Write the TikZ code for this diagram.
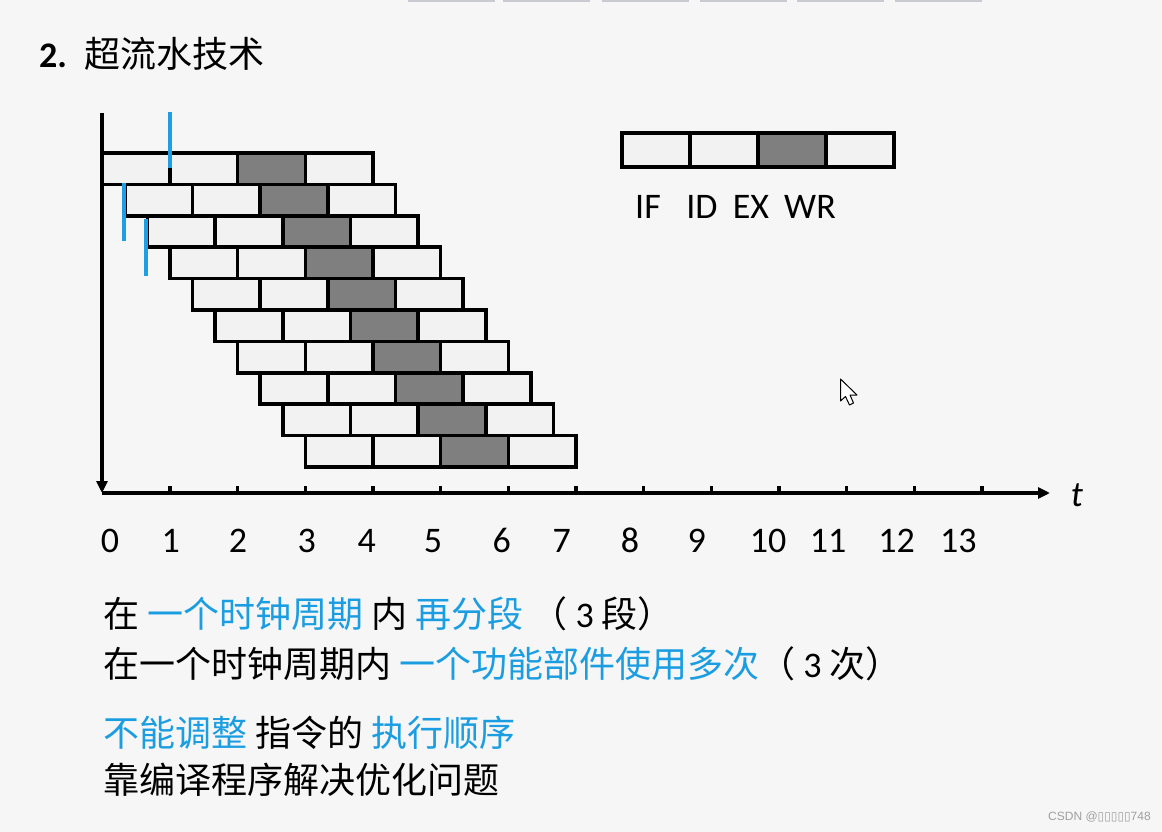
\documentclass[tikz,border=0pt]{standalone}
\usepackage{fontspec}
\setmainfont{Carlito}
\newfontfamily\cjk{Noto Sans CJK SC}
\newfontfamily\wmfont{Liberation Sans}
\newfontfamily\symfont{DejaVu Sans}
\usetikzlibrary{arrows.meta}
\definecolor{bgc}{HTML}{F6F6F6}
\definecolor{cellc}{HTML}{F2F2F2}
\definecolor{darkc}{HTML}{7F7F7F}
\definecolor{hlblue}{HTML}{1B9DE2}
\definecolor{markblue}{HTML}{1E9FE3}
\definecolor{barc}{HTML}{C9CAD2}
\begin{document}
\begin{tikzpicture}[x=1pt,y=-1pt,
  cell/.style={draw=black, line width=3.6pt, fill=cellc},
  darkcell/.style={cell, fill=darkc},
  txt/.style={inner sep=0pt, font=\cjk\fontsize{36}{40}\selectfont, anchor=base west},
  num/.style={inner sep=0pt, font=\fontsize{36}{40}\selectfont, anchor=base},
  axis/.style={line width=3.4pt, -{Triangle[length=12pt,width=11pt]}},
  tickmark/.style={line width=3.2pt},
  marker/.style={draw=markblue, line width=3.6pt}]
% background
\fill[bgc] (0,0) rectangle (1162,832);
\useasboundingbox (0,0) rectangle (1162,832);
% top toolbar fragments
\foreach \a/\b in {408/495,503/590,602/689,700/787,797/884,895/982}
  \fill[barc] (\a,0) rectangle (\b,2.5);
% title
\node[anchor=base west, inner sep=0pt, font=\fontsize{36}{40}\selectfont] (title) at (39,68)
  {{\bfseries 2.}\hspace{17pt}{\cjk 超流水技术}};
% pipeline rows
\foreach \i in {0,...,9} {
  \foreach \j in {0,...,3} {
    \pgfmathsetmacro\xa{102.3+22.56*\i+67.67*\j}
    \pgfmathsetmacro\ya{153+31.4*\i}
    \ifnum\j=2
      \path[darkcell] (\xa,\ya) rectangle ++(67.67,31.4);
    \else
      \path[cell] (\xa,\ya) rectangle ++(67.67,31.4);
    \fi
  }
}
% axes
\coordinate (Ytop) at (102,113);
\coordinate (O) at (102,493);
\coordinate (Xend) at (1050,493);
\draw[axis] (Ytop) -- (O);
\draw[axis] (O) -- (Xend);
\foreach \k in {1,...,13} {
  \pgfmathsetmacro\xt{102.3+67.67*\k}
  \draw[tickmark] (\xt,493) -- (\xt,485.5);
}
\node[inner sep=0pt, anchor=base, font=\itshape\fontsize{36}{40}\selectfont] (tlabel) at (1077,506) {t};
% axis numbers
\foreach \n/\x in {0/110,1/170.7,2/238,3/306.7,4/366.7,5/433,6/501.7,7/561.7,8/630,9/696.7,10/768,11/828,12/896.7,13/958.3}
  \node[num] (n\n) at (\x,552) {\n};
% blue markers
\draw[marker] (170,112) -- (170,168);
\draw[marker] (124,183) -- (124,241);
\draw[marker] (146,219) -- (146,276);
% legend
\foreach \j in {0,...,3} {
  \pgfmathsetmacro\xl{622+68*\j}
  \ifnum\j=2
    \path[darkcell] (\xl,133) rectangle ++(68,34);
  \else
    \path[cell] (\xl,133) rectangle ++(68,34);
  \fi
}
\node[num] (lIF) at (648,218) {IF};
\node[num] (lID) at (702,218) {ID};
\node[num] (lEX) at (751,218) {EX};
\node[num] (lWR) at (810,218) {WR};
% cursor
\draw[line width=1pt, fill=white, line join=round] (840.5,379) -- (840.5,401) -- (845.5,396.5) -- (849.5,405) -- (853.5,403) -- (850,395) -- (857,395) -- cycle;
% text lines
\node[txt] (l1) at (103,627) {在 \textcolor{hlblue}{一个时钟周期} 内 \textcolor{hlblue}{再分段} （ {\normalfont 3} 段）};
\node[txt] (l2) at (103,677) {在一个时钟周期内 \textcolor{hlblue}{一个功能部件使用多次}（ {\normalfont 3} 次）};
\node[txt] (l3) at (103,746) {\textcolor{hlblue}{不能调整} 指令的 \textcolor{hlblue}{执行顺序}};
\node[txt] (l4) at (103,793) {靠编译程序解决优化问题};
% watermark
\node[anchor=base west, inner sep=0pt, font=\wmfont\fontsize{12}{14}\selectfont, text=gray!75] (wm) at (1048,820)
  {CSDN @{\symfont ▯▯▯▯▯}748};
\end{tikzpicture}
\end{document}
